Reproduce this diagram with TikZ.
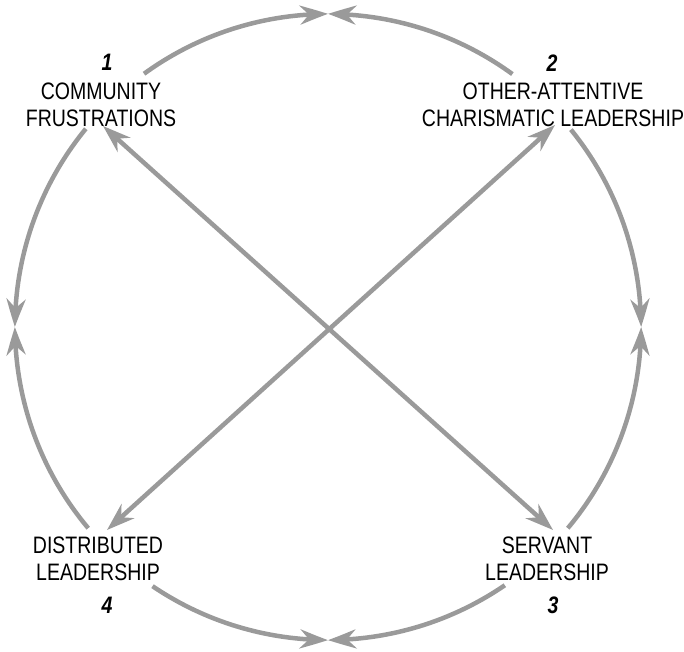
\documentclass[tikz,border=0pt]{standalone}
\usepackage{fontspec}
\setmainfont{Liberation Sans}[FakeStretch=0.82]
\usetikzlibrary{arrows.meta,bending}
\definecolor{arrowgray}{HTML}{9A9A9A}
\begin{document}
\begin{tikzpicture}[x=1pt,y=1pt,
  tip/.tip={Stealth[length=28pt,width=19pt,inset=9pt,bend]},
  arr/.style={draw=arrowgray, line width=4.5pt, -tip},
  darr/.style={draw=arrowgray, line width=4.5pt, tip-tip},
  lbl/.style={inner sep=0pt, align=center, font=\fontsize{23.8}{26.7}\selectfont},
  num/.style={inner sep=0pt, font=\fontsize{23.8}{26.7}\selectfont\bfseries\itshape}]
\useasboundingbox (0,0) rectangle (684,651);
% centre of the ring
\coordinate (c) at (328,324);
\def\R{313}
% labels
\node[lbl] (n1) at (101,546.5) {COMMUNITY\\FRUSTRATIONS};
\node[lbl] (n2) at (553,546.5) {OTHER-ATTENTIVE\\CHARISMATIC LEADERSHIP};
\node[lbl] (n3) at (547,92.5) {SERVANT\\LEADERSHIP};
\node[lbl] (n4) at (98,92.5) {DISTRIBUTED\\LEADERSHIP};
\node[num] (k1) at (107,589) {1};
\node[num] (k2) at (552,588) {2};
\node[num] (k3) at (553,46) {3};
\node[num] (k4) at (107,46) {4};
% arc start points
\coordinate (s1t) at ([shift={(126:\R)}]c);
\coordinate (s1l) at ([shift={(140.7:\R)}]c);
\coordinate (s2t) at ([shift={(53.9:\R)}]c);
\coordinate (s2r) at ([shift={(39.1:\R)}]c);
\coordinate (s4l) at ([shift={(220:\R)}]c);
\coordinate (s4b) at ([shift={(235.9:\R)}]c);
\coordinate (s3r) at ([shift={(320:\R)}]c);
\coordinate (s3b) at ([shift={(304.4:\R)}]c);
% arcs
\draw[arr] (s1t) arc[start angle=126, end angle=90, radius=\R];
\draw[arr] (s2t) arc[start angle=53.9, end angle=90, radius=\R];
\draw[arr] (s1l) arc[start angle=140.7, end angle=180, radius=\R];
\draw[arr] (s4l) arc[start angle=220, end angle=180, radius=\R];
\draw[arr] (s2r) arc[start angle=39.1, end angle=0, radius=\R];
\draw[arr] (s3r) arc[start angle=320, end angle=360, radius=\R];
\draw[arr] (s4b) arc[start angle=235.9, end angle=270, radius=\R];
\draw[arr] (s3b) arc[start angle=304.4, end angle=270, radius=\R];
% diagonals
\coordinate (d1) at (103,525);
\coordinate (d3) at (553,121);
\coordinate (d2) at (555,526);
\coordinate (d4) at (107,121);
\draw[darr] (d1) -- (d3);
\draw[darr] (d2) -- (d4);
\end{tikzpicture}
\end{document}
